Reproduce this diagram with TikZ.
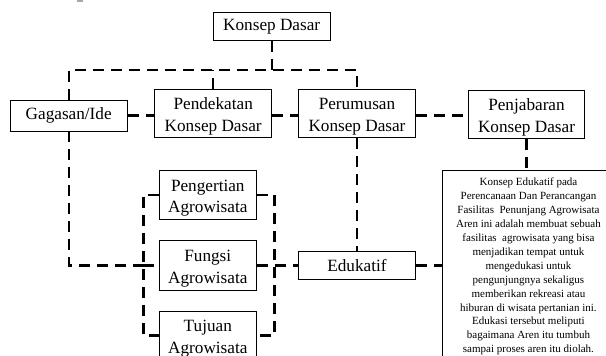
\documentclass[tikz,border=0pt]{standalone}
\usepackage{fontspec}
\setmainfont{Liberation Serif}
\newcommand{\toppad}{\rule{0pt}{18pt}}
\begin{document}
\begin{tikzpicture}[x=1pt,y=-1pt,
  boxn/.style={draw,line width=0.9pt,inner sep=0pt,align=center,font=\fontsize{17.2}{21.5}\selectfont},
  dl/.style={line width=2.4pt,dash pattern=on 11pt off 7pt},
  smalltxt/.style={draw,line width=0.9pt,inner sep=0pt,align=center,anchor=north west,
     minimum width=172pt,font=\fontsize{11}{13.9}\selectfont}]
\useasboundingbox (0,0) rectangle (606,356);
\clip (0,0) rectangle (606,356);
\fill[gray!70] (77,0) rectangle (83,1.5);
% nodes
\node[boxn,minimum width=117.5pt,minimum height=27.7pt] (kd) at (271.7,26.2) {Konsep Dasar};
\node[boxn,minimum width=117.5pt,minimum height=31pt] (gag) at (68.7,115.5) {Gagasan/Ide};
\node[boxn,minimum width=117pt,minimum height=48pt] (pend) at (213.2,113.3) {\toppad Pendekatan\\Konsep Dasar};
\node[boxn,minimum width=117pt,minimum height=48pt] (perum) at (357,113.3) {\toppad Perumusan\\Konsep Dasar};
\node[boxn,minimum width=116pt,minimum height=48.7pt] (penj) at (526.5,114.3) {\toppad Penjabaran\\Konsep Dasar};
\node[boxn,minimum width=97pt,minimum height=49.3pt] (peng) at (207.8,194.7) {\toppad Pengertian\\Agrowisata};
\node[boxn,minimum width=97pt,minimum height=49.3pt] (fung) at (207.8,265.3) {\toppad Fungsi\\Agrowisata};
\node[boxn,minimum width=97pt,minimum height=49.3pt] (tuj) at (207.8,335.6) {\toppad Tujuan\\Agrowisata};
\node[boxn,minimum width=117pt,minimum height=27.3pt] (edu) at (357,265.3) {Edukatif};
\node[smalltxt] (txt) at (442,170) {\rule{0pt}{15.5pt}Konsep Edukatif pada\\Perencanaan Dan Perancangan\\Fasilitas\ \ Penunjang Agrowisata\\Aren ini adalah membuat sebuah\\fasilitas\ \ agrowisata yang bisa\\menjadikan tempat untuk\\mengedukasi untuk\\pengunjungnya sekaligus\\memberikan rekreasi atau\\hiburan di wisata pertanian ini.\\Edukasi tersebut meliputi\\bagaimana Aren itu tumbuh\\sampai proses aren itu diolah.\\[20pt]\ };
% connectors
\coordinate (hb) at (0,70);
\draw[dl] (gag.north) |- (perum.north |- hb) -- (perum.north);
\draw[dl] (kd.south) -- (kd.south |- hb);
\draw[dl] (pend.north) -- (pend.north |- hb);
\draw[dl] (gag.east) -- (gag.east -| pend.west);
\draw[dl] (pend.east |- gag.east) -- (perum.west |- gag.east);
\draw[dl] (perum.east |- gag.east) -- (penj.west |- gag.east);
\draw[dl] (perum.south) -- (edu.north);
\draw[dl] (penj.south) -- (penj.south |- txt.north);
\draw[dl] (peng.west) -- ++(-15.5,0) coordinate (lbt) -- (lbt |- tuj.west) -- (tuj.west);
\draw[dl] (peng.east) -- ++(17.7,0) coordinate (rbt) -- (rbt |- tuj.east) -- (tuj.east);
\draw[dl] (gag.south) |- (fung.west -| lbt);
\draw[dl] (fung.west -| lbt) -- (fung.west);
\draw[dl] (fung.east) -- (edu.west);
\draw[dl] (edu.east) -- (edu.east -| txt.west);
\end{tikzpicture}
\end{document}
